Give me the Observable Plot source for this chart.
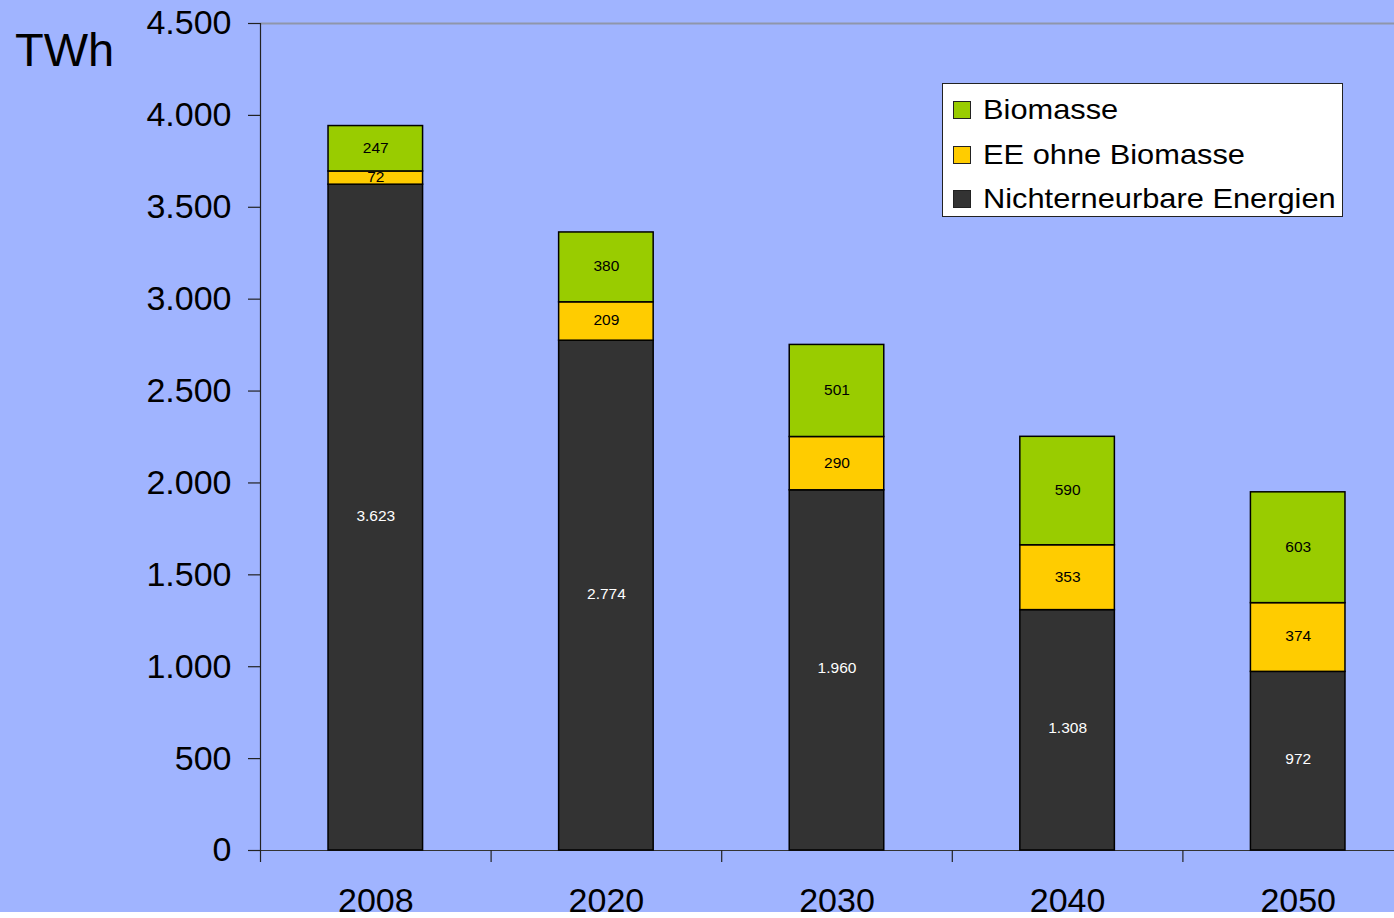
<!DOCTYPE html>
<html><head><meta charset="utf-8">
<script src="https://cdn.jsdelivr.net/npm/d3@7"></script>
<script src="https://cdn.jsdelivr.net/npm/@observablehq/plot@0.6"></script>
<style>
html,body{margin:0;padding:0;background:#fff;}
#wrap{position:relative;width:1394px;height:912px;background:#a0b4ff;overflow:hidden;font-family:"Liberation Sans",Arial,Helvetica,sans-serif;}
#unit{position:absolute;left:15px;top:22px;font-size:47px;line-height:56px;color:#000;}
#legend{position:absolute;left:942px;top:83px;width:401px;height:134px;box-sizing:border-box;background:#fff;border:1px solid #222;}
.row{position:absolute;left:0;height:40px;width:100%;}
.sw{position:absolute;left:10px;top:11px;width:18px;height:18px;box-sizing:border-box;border:1.5px solid #222;}
.lb{position:absolute;left:40px;top:0;line-height:40px;font-size:28px;color:#000;white-space:nowrap;transform-origin:0 50%;transform:scaleX(1.1);}
svg{position:absolute;left:0;top:0;}
</style>
</head><body>
<div id="wrap">
  <div id="chart"></div>
  <div id="unit">TWh</div>
  <div id="legend"></div>
</div>
<script>
// ---- data ----
const years = ["2008", "2020", "2030", "2040", "2050"];
const series = ["Nichterneurbare Energien", "EE ohne Biomasse", "Biomasse"];
const nichterneuerbar = [3623, 2774, 1960, 1308, 972];
const eeOhneBiomasse = [72, 209, 290, 353, 374];
const biomasse = [247, 380, 501, 590, 603];
const yTicks = [0, 500, 1000, 1500, 2000, 2500, 3000, 3500, 4000, 4500];
const colors = ["#333333", "#ffcc00", "#99cc00"];
const legendOrder = ["Biomasse", "EE ohne Biomasse", "Nichterneurbare Energien"];

const valuesBySeries = [nichterneuerbar, eeOhneBiomasse, biomasse];
const data = [];
years.forEach((yr, i) => {
  series.forEach((s, j) => data.push({year: yr, series: s, value: valuesBySeries[j][i]}));
});

const locale = d3.formatLocale({decimal: ",", thousands: ".", grouping: [3], currency: ["", "€"]});
const fmt = locale.format(",d");

const W = 1394, H = 912;
const left = 260, step = 230.6;
const padIn = 0.59, padOut = padIn / 2;
const bw = step * (1 - padIn);
const tickShift = -(bw / 2 + step * padIn / 2);

const stackOpts = {x: "year", y: "value", z: "series", order: series};

const chart = Plot.plot({
  width: W,
  height: H,
  marginLeft: left,
  marginRight: 0,
  marginTop: 23,
  marginBottom: 62,
  style: {background: "transparent", color: "#000", fontFamily: "'Liberation Sans', Arial, sans-serif", overflow: "visible"},
  x: {type: "band", domain: years, range: [left, left + step * years.length], paddingInner: padIn, paddingOuter: padOut, round: false, axis: null, label: null},
  y: {domain: [0, 4500], axis: null, label: null},
  color: {domain: series, range: colors},
  marks: [
    Plot.ruleY([4500], {stroke: "#8f96aa", strokeWidth: 2}),
    Plot.ruleY([0], {stroke: "#333", strokeWidth: 1.2}),
    Plot.barY(data, Plot.stackY({...stackOpts, fill: "series", stroke: "#000", strokeWidth: 1.5})),
    Plot.text(data, Plot.stackY({...stackOpts, text: d => d.series === series[0] ? fmt(d.value) : "", fill: "#fff", fontSize: 15.5, dy: -2})),
    Plot.text(data, Plot.stackY({...stackOpts, text: d => d.series !== series[0] ? fmt(d.value) : "", fill: "#000", fontSize: 15.5, dy: -1})),
    Plot.frame({anchor: "left", stroke: "#222", strokeWidth: 1.2}),
    Plot.axisY({ticks: yTicks, tickFormat: fmt, tickSize: 12, tickPadding: 17, fontSize: 34, stroke: "#222", strokeOpacity: 1, strokeWidth: 1.2, fill: "#000", label: null}),
    Plot.axisX({ticks: years, tickSize: 12, tickFormat: () => "", dx: tickShift, stroke: "#222", strokeOpacity: 1, strokeWidth: 1.2, label: null}),
    Plot.axisX({ticks: years, tickSize: 0, tickPadding: 37, fontSize: 34, fill: "#000", label: null})
  ]
});
document.getElementById("chart").appendChild(chart);

// legend
const lg = document.getElementById("legend");
const rowCenters = [26, 70.5, 115];
legendOrder.forEach((name, i) => {
  const row = document.createElement("div");
  row.className = "row";
  row.style.top = (rowCenters[i] - 20) + "px";
  const sw = document.createElement("div");
  sw.className = "sw";
  sw.style.background = colors[series.indexOf(name)];
  const lb = document.createElement("div");
  lb.className = "lb";
  lb.textContent = name;
  row.appendChild(sw); row.appendChild(lb);
  lg.appendChild(row);
});
</script>
</body></html>
